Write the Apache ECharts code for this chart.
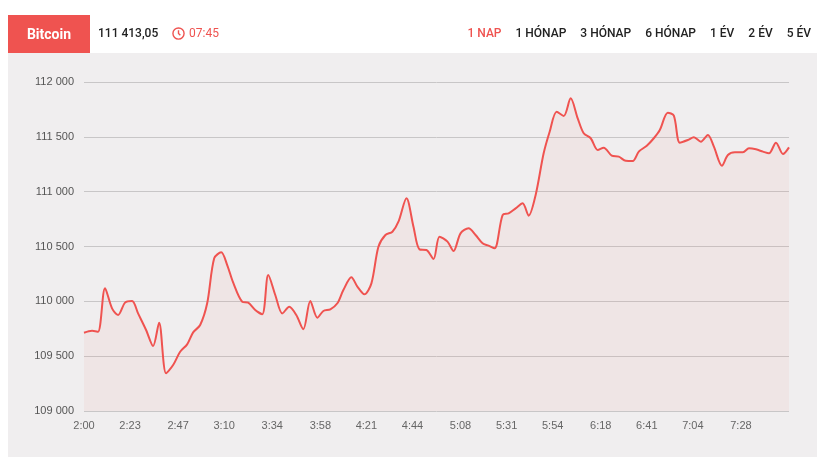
<!DOCTYPE html>
<html><head><meta charset="utf-8">
<script src="https://cdn.jsdelivr.net/npm/echarts@6/dist/echarts.min.js"></script>
<style>
body{margin:0;background:#fff;font-family:Roboto,"Noto Sans",sans-serif;}
#hdr{position:absolute;left:0;top:0;width:825px;height:53px;}
#tag{position:absolute;left:8px;top:15px;width:82px;height:38px;background:#ef5350;color:#fff;font-weight:bold;font-size:14px;line-height:38px;text-align:center;}
#price{position:absolute;left:98px;top:26px;font-size:12px;font-weight:500;color:#222;}
#time{position:absolute;left:172px;top:26px;font-size:12px;color:#ef5350;display:flex;align-items:center;gap:4px;}
#menu{position:absolute;right:14px;top:26px;font-size:12px;font-weight:500;color:#222;}
#menu span{margin-left:14px}
#panel{position:absolute;left:8px;top:53px;width:809px;height:404px;background:#f0eeef;}
#c{position:absolute;left:0;top:0;width:825px;height:464px;}
</style></head><body>
<div id="panel"></div>
<div id="c"></div>
<div id="hdr">
<div id="tag">Bitcoin</div>
<div id="price">111 413,05</div>
<div id="time"><svg width="13" height="13" viewBox="0 0 14 14"><circle cx="7" cy="7" r="6" fill="none" stroke="#ef5350" stroke-width="1.5"/><path d="M7 3.5V7l2 2" fill="none" stroke="#ef5350" stroke-width="1.5"/></svg>07:45</div>
<div id="menu"><span style="color:#ef5350">1 NAP</span><span>1 HÓNAP</span><span>3 HÓNAP</span><span>6 HÓNAP</span><span>1 ÉV</span><span>2 ÉV</span><span>5 ÉV</span></div>
</div>
<script>
const minutes=[0,4,7,10.5,14,17,20.5,24,27,31,34.5,37.5,41,44.5,48,51.5,54.5,58,61.5,65,68.5,71.5,74.5,79,82,85.5,89,92,95.5,99,102.5,106,109.5,113,116.5,119.5,123,126.5,129.5,133.5,136.5,140,143.5,147,150.5,154,157,161,164.5,167.5,171,174.5,177.5,181.5,184.5,188,192,195.5,199,202,205,209,212,215.5,219,222,225.5,229.5,232.5,236,239.5,243,246.5,249.5,253,256.5,259.5,263.5,267,270.5,274,277,281,284.5,287.5,291.5,294.5,297.5,301.5,304.5,308,311.5,314.5,318.5,321.5,325,329,332,335.5,339,342,345.5,349,352];
const values=[109714,109732,109723,110119,109936,109875,109988,110003,109890,109739,109593,109805,109344,109419,109540,109608,109717,109784,109982,110392,110447,110331,110170,109997,109988,109921,109882,110240,110058,109890,109951,109875,109745,110003,109851,109912,109927,109982,110103,110219,110134,110064,110164,110498,110605,110635,110726,110940,110681,110474,110468,110386,110590,110544,110459,110620,110666,110605,110529,110508,110484,110787,110802,110848,110894,110781,110970,111350,111547,111729,111690,111851,111669,111532,111487,111380,111401,111328,111319,111282,111280,111365,111419,111487,111562,111720,111693,111447,111471,111496,111456,111517,111410,111237,111334,111359,111359,111395,111386,111365,111350,111447,111343,111404];
const tickMinutes=[0,23,47,70,94,118,141,164,188,211,234,258,281,304,328];
const tickLabels=['2:00','2:23','2:47','3:10','3:34','3:58','4:21','4:44','5:08','5:31','5:54','6:18','6:41','7:04','7:28'];
const ch=echarts.init(document.getElementById('c'));
ch.setOption({
 animation:false,
 grid:{left:84,right:36,top:82,bottom:53},
 xAxis:{type:'value',min:0,max:352,
  axisLine:{show:false},axisTick:{show:false},splitLine:{show:false},
  axisLabel:{customValues:tickMinutes,color:'#666',fontSize:11,margin:9,
   formatter:v=>tickLabels[tickMinutes.indexOf(Math.round(v))]||''}},
 yAxis:{type:'value',min:109000,max:112000,interval:500,
  axisLine:{show:false},axisTick:{show:false},
  splitLine:{lineStyle:{color:'#c8c6c7'}},
  axisLabel:{color:'#555',fontSize:11,margin:10,formatter:v=>String(v).replace(/(\d{3})$/,' $1')}},
 series:[{type:'line',data:minutes.map((m,i)=>[m,values[i]]),smooth:0.3,symbol:'none',
  lineStyle:{color:'#ef5350',width:2},areaStyle:{color:'rgba(239,83,80,0.08)',origin:'start'}}]
});
</script></body></html>
